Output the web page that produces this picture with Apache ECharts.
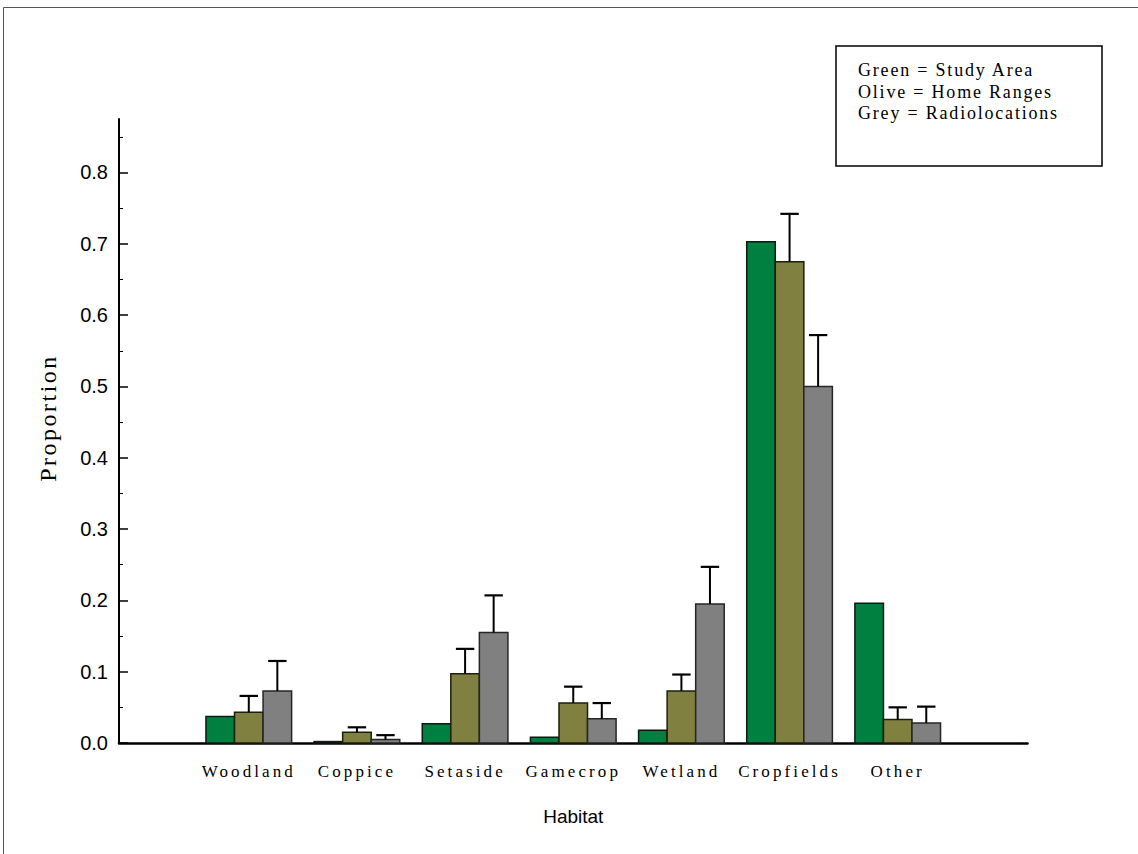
<!DOCTYPE html>
<html>
<head>
<meta charset="utf-8">
<title>Habitat proportions</title>
<script src="https://cdn.jsdelivr.net/npm/echarts@6/dist/echarts.min.js"></script>
<style>
  html, body { margin: 0; padding: 0; background: #fff; }
  #chart { width: 1138px; height: 854px; }
  /* wide tracking for the serif lettering */
  #chart text[style*="Times New Roman"] { letter-spacing: 3.1px; }
  #chart text[style*="Tinos"] { letter-spacing: 1.8px; }
  #chart text[style*="Times, serif"] { letter-spacing: 2.5px; }
</style>
</head>
<body>
<div id="chart"></div>
<script>
// Habitat categories along the x axis
const categories = ['Woodland', 'Coppice', 'Setaside', 'Gamecrop', 'Wetland', 'Cropfields', 'Other'];

// Proportion of each habitat
const studyArea      = [0.037, 0.002, 0.027, 0.008, 0.018, 0.703, 0.196];
const homeRanges     = [0.043, 0.015, 0.097, 0.056, 0.073, 0.675, 0.033];
const radiolocations = [0.073, 0.005, 0.155, 0.034, 0.195, 0.500, 0.028];

// Upper error (standard error) for the olive and grey bars
const homeRangesSE     = [0.023, 0.007, 0.035, 0.023, 0.023, 0.067, 0.017];
const radiolocationsSE = [0.042, 0.006, 0.052, 0.022, 0.052, 0.072, 0.023];

// Y axis ticks
const majorTicks = [0, 0.1, 0.2, 0.3, 0.4, 0.5, 0.6, 0.7, 0.8];
const minorTicks = [0.05, 0.15, 0.25, 0.35, 0.45, 0.55, 0.65, 0.75, 0.85];

// Key text
const keyLines = ['Green = Study Area', 'Olive = Home Ranges', 'Grey = Radiolocations'];

const BAR_W = 0.264;   // bar width in category units
const CAP_W = 0.17;    // error cap width in category units

const SERIF_AXIS = 'Liberation Serif, Times New Roman, serif';
const SERIF_KEY = 'Liberation Serif, Tinos, serif';
const SERIF_TITLE = 'Liberation Serif, Times, serif';
const SANS = 'Liberation Sans, Arial, sans-serif';

function barRenderer(offset, fill, stroke) {
  return function (params, api) {
    const x = api.value(0) + offset;
    const v = api.value(1);
    const p0 = api.coord([x - BAR_W / 2, v]);
    const p1 = api.coord([x + BAR_W / 2, 0]);
    const children = [{
      type: 'rect',
      shape: { x: p0[0], y: p0[1], width: p1[0] - p0[0], height: p1[1] - p0[1] },
      style: { fill: fill, stroke: stroke, lineWidth: 1.5 }
    }];
    const se = api.value(2);
    if (se != null && !isNaN(se)) {
      const top = api.coord([x, v + se]);
      const capL = api.coord([x - CAP_W / 2, v + se]);
      const capR = api.coord([x + CAP_W / 2, v + se]);
      children.push({
        type: 'line',
        shape: { x1: top[0], y1: p0[1], x2: top[0], y2: top[1] },
        style: { stroke: '#000', lineWidth: 2 }
      });
      children.push({
        type: 'line',
        shape: { x1: capL[0], y1: capL[1], x2: capR[0], y2: capR[1] },
        style: { stroke: '#000', lineWidth: 2.2 }
      });
    }
    return { type: 'group', children: children };
  };
}

function toData(values, errors) {
  return values.map((v, i) => errors ? [i + 1, v, errors[i]] : [i + 1, v]);
}

const chart = echarts.init(document.getElementById('chart'), null, { renderer: 'svg' });

chart.setOption({
  animation: false,
  backgroundColor: '#fff',
  grid: { left: 119, right: 110.5, top: 119, bottom: 111, outerBoundsMode: 'none' },
  xAxis: {
    type: 'value',
    min: -0.2,
    max: 8.2,
    splitLine: { show: false },
    axisLine: { show: true, onZero: false, lineStyle: { color: '#000', width: 2.5 } },
    axisTick: { show: false },
    axisLabel: {
      customValues: categories.map((c, i) => i + 1),
      formatter: v => categories[Math.round(v) - 1] || '',
      color: '#000',
      fontFamily: SERIF_AXIS,
      fontSize: 17,
      verticalAlign: 'middle',
      margin: 28
    },
    name: 'Habitat',
    nameLocation: 'middle',
    nameGap: 64,
    nameTextStyle: { color: '#000', fontFamily: SANS, fontSize: 19 }
  },
  yAxis: [{
    type: 'value',
    min: 0,
    max: 0.875,
    splitLine: { show: false },
    axisLine: { show: true, onZero: false, lineStyle: { color: '#000', width: 2 } },
    axisTick: {
      show: true, inside: true, length: 9,
      customValues: majorTicks,
      lineStyle: { color: '#000', width: 1.5 }
    },
    axisLabel: {
      customValues: majorTicks,
      formatter: v => v.toFixed(1),
      color: '#000',
      fontFamily: SANS,
      fontSize: 20,
      margin: 11
    }
  }, {
    type: 'value',
    min: 0,
    max: 0.875,
    position: 'left',
    splitLine: { show: false },
    axisLine: { show: false, onZero: false },
    axisTick: {
      show: true, inside: true, length: 4,
      customValues: minorTicks,
      lineStyle: { color: '#000', width: 1 }
    },
    axisLabel: { show: false }
  }],
  graphic: [
    {
      type: 'rect', silent: true,
      shape: { x: 3.5, y: 7.5, width: 1200, height: 900 },
      style: { fill: 'none', stroke: '#555', lineWidth: 1 }
    },
    {
      type: 'rect', silent: true,
      shape: { x: 836, y: 46, width: 266, height: 120 },
      style: { fill: '#fff', stroke: '#000', lineWidth: 1.5 }
    },
    ...keyLines.map((t, i) => ({
      type: 'text', silent: true,
      x: 858, y: 70 + i * 21.5,
      style: {
        text: t, fill: '#000', fontFamily: SERIF_KEY, fontSize: 18,
        align: 'left', verticalAlign: 'middle'
      }
    })),
    {
      type: 'text', silent: true,
      x: 48, y: 418, rotation: Math.PI / 2,
      style: {
        text: 'Proportion', fill: '#000', fontFamily: SERIF_TITLE, fontSize: 24,
        align: 'center', verticalAlign: 'middle'
      }
    }
  ],
  series: [
    {
      name: 'Study Area', type: 'custom', clip: false,
      renderItem: barRenderer(-BAR_W, '#008040', '#0d1a10'),
      encode: { x: 0, y: 1 },
      data: toData(studyArea)
    },
    {
      name: 'Home Ranges', type: 'custom', clip: false,
      renderItem: barRenderer(0, '#808040', '#1e1e0c'),
      encode: { x: 0, y: 1 },
      data: toData(homeRanges, homeRangesSE)
    },
    {
      name: 'Radiolocations', type: 'custom', clip: false,
      renderItem: barRenderer(BAR_W, '#808080', '#262626'),
      encode: { x: 0, y: 1 },
      data: toData(radiolocations, radiolocationsSE)
    }
  ]
});
</script>
</body>
</html>
